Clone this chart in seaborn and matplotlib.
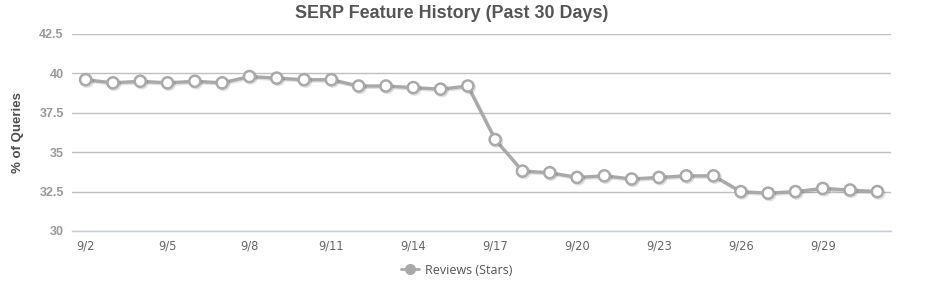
import matplotlib
matplotlib.use("Agg")
import matplotlib.pyplot as plt
import matplotlib.patheffects as pe
from matplotlib.lines import Line2D
import seaborn as sns
import pandas as pd

# ---- data ----
dates = ["9/2", "9/3", "9/4", "9/5", "9/6", "9/7", "9/8", "9/9", "9/10", "9/11",
         "9/12", "9/13", "9/14", "9/15", "9/16", "9/17", "9/18", "9/19", "9/20", "9/21",
         "9/22", "9/23", "9/24", "9/25", "9/26", "9/27", "9/28", "9/29", "9/30", "10/1"]
values = [39.6, 39.4, 39.5, 39.4, 39.5, 39.4, 39.8, 39.7, 39.6, 39.6,
          39.2, 39.2, 39.1, 39.0, 39.2, 35.8, 33.8, 33.7, 33.4, 33.5,
          33.3, 33.4, 33.5, 33.5, 32.5, 32.4, 32.5, 32.7, 32.6, 32.5]
series_name = "Reviews (Stars)"
title = "SERP Feature History (Past 30 Days)"
y_label = "% of Queries"
y_ticks = [30, 32.5, 35, 37.5, 40, 42.5]
y_tick_labels = ["30", "32.5", "35", "37.5", "40", "42.5"]
x_label_step = 3

sns.set_style("white")
plt.rcParams['font.family'] = ['Liberation Sans', 'DejaVu Sans']

W, H = 933, 291
fig = plt.figure(figsize=(W / 100, H / 100), dpi=100)
ax = fig.add_axes([72 / W, 1 - 231 / H, (891 - 72) / W, (231 - 34) / H])

df = pd.DataFrame({"pos": list(range(len(dates))), "date": dates, "value": values})
line_color = "#a9a9a9"
sns.lineplot(data=df, x="pos", y="value", ax=ax, color=line_color, linewidth=2.4,
             marker="o", markersize=8, markerfacecolor="white",
             markeredgecolor=line_color, markeredgewidth=1.8, legend=False, zorder=3)
for ln in ax.get_lines():
    ln.set_path_effects([pe.SimpleLineShadow(offset=(1, -1), shadow_color="k", alpha=0.12),
                         pe.Normal()])

ax.set_xlim(-0.5, len(dates) - 0.5)
ax.set_ylim(y_ticks[0], y_ticks[-1])
ax.set_yticks(y_ticks)
ax.set_yticklabels(y_tick_labels)
tick_pos = list(range(0, len(dates), x_label_step))
ax.set_xticks(tick_pos)
ax.set_xticklabels([dates[i] for i in tick_pos], family=["DejaVu Sans"])

ax.yaxis.grid(True, color="#c0c0c0", linewidth=1)
ax.set_axisbelow(True)
for s in ["top", "right", "left"]:
    ax.spines[s].set_visible(False)
ax.spines["bottom"].set_color("#c0d0e0")
ax.spines["bottom"].set_linewidth(1)
ax.tick_params(axis="x", length=5, width=1, color="#c0d0e0", pad=1, labelsize=8.3, labelcolor="#666666")
ax.tick_params(axis="y", length=0, pad=6, labelsize=9, labelcolor="#999999")
for t in ax.get_yticklabels():
    t.set_fontweight("bold")
ax.set_xlabel("")
ax.set_ylabel(y_label, fontsize=9.5, fontweight="bold", color="#4d4d4d")
ax.yaxis.set_label_coords((24 - 72) / (891 - 72), 0.5)

fig.text(452 / W, 1 - 14 / H, title, ha="center", va="center", fontsize=12.9,
         fontweight="bold", color="#555555")

handle = Line2D([0], [0], color=line_color, linewidth=2, marker="o", markersize=7,
                markerfacecolor=line_color, markeredgecolor=line_color)
fig.legend([handle], [series_name], loc="center", bbox_to_anchor=(457 / W, 1 - 270 / H),
           frameon=False, handlelength=1.4, handletextpad=0.5,
           prop={"family": ["Open Sans", "DejaVu Sans"], "size": 9}, labelcolor="#555555")

fig.savefig("out.png", dpi=100)
